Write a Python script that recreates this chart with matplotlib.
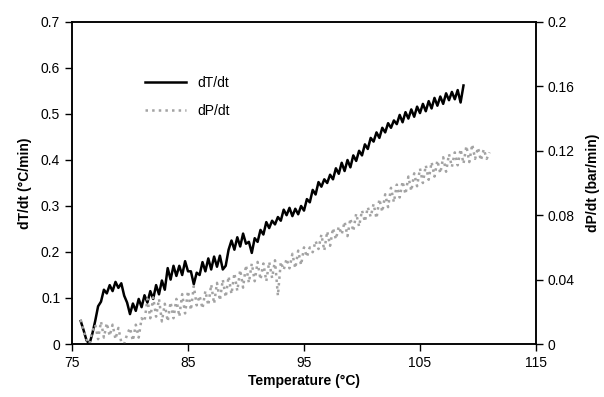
import matplotlib
matplotlib.use("Agg")
import matplotlib.pyplot as plt

plt.rcParams['font.family'] = ['Liberation Sans', 'DejaVu Sans']

# dT/dt (left axis, °C/min)
temp_T = [
    75.75, 76.0, 76.25, 76.5, 76.75, 77.0, 77.25, 77.5, 77.75, 78.0,
    78.25, 78.5, 78.75, 79.0, 79.25, 79.5, 79.75, 80.0, 80.25, 80.5,
    80.75, 81.0, 81.25, 81.5, 81.75, 82.0, 82.25, 82.5, 82.75, 83.0,
    83.25, 83.5, 83.75, 84.0, 84.25, 84.5, 84.75, 85.0, 85.25, 85.5,
    85.75, 86.0, 86.25, 86.5, 86.75, 87.0, 87.25, 87.5, 87.75, 88.0,
    88.25, 88.5, 88.75, 89.0, 89.25, 89.5, 89.75, 90.0, 90.25, 90.5,
    90.75, 91.0, 91.25, 91.5, 91.75, 92.0, 92.25, 92.5, 92.75, 93.0,
    93.25, 93.5, 93.75, 94.0, 94.25, 94.5, 94.75, 95.0, 95.25, 95.5,
    95.75, 96.0, 96.25, 96.5, 96.75, 97.0, 97.25, 97.5, 97.75, 98.0,
    98.25, 98.5, 98.75, 99.0, 99.25, 99.5, 99.75, 100.0, 100.25, 100.5,
    100.75, 101.0, 101.25, 101.5, 101.75, 102.0, 102.25, 102.5, 102.75, 103.0,
    103.25, 103.5, 103.75, 104.0, 104.25, 104.5, 104.75, 105.0, 105.25, 105.5,
    105.75, 106.0, 106.25, 106.5, 106.75, 107.0, 107.25, 107.5, 107.75, 108.0,
    108.25, 108.5, 108.75,
]
dTdt = [
    0.050, 0.030, 0.008, 0.000, 0.022, 0.050, 0.082, 0.092, 0.118, 0.110,
    0.128, 0.115, 0.135, 0.122, 0.132, 0.105, 0.090, 0.065, 0.088, 0.072,
    0.098, 0.080, 0.106, 0.090, 0.115, 0.098, 0.128, 0.108, 0.138, 0.118,
    0.165, 0.140, 0.170, 0.148, 0.170, 0.150, 0.180, 0.158, 0.158, 0.130,
    0.155, 0.150, 0.178, 0.158, 0.186, 0.162, 0.190, 0.168, 0.192, 0.162,
    0.170, 0.205, 0.225, 0.205, 0.232, 0.212, 0.240, 0.218, 0.222, 0.198,
    0.230, 0.222, 0.248, 0.238, 0.265, 0.252, 0.268, 0.260, 0.276, 0.268,
    0.292, 0.280, 0.296, 0.278, 0.294, 0.282, 0.300, 0.290, 0.315, 0.308,
    0.335, 0.325, 0.352, 0.342, 0.358, 0.350, 0.368, 0.358, 0.382, 0.370,
    0.394, 0.376, 0.400, 0.384, 0.410, 0.398, 0.420, 0.410, 0.434, 0.424,
    0.448, 0.440, 0.460, 0.448, 0.470, 0.460, 0.480, 0.470, 0.486, 0.478,
    0.498, 0.482, 0.504, 0.490, 0.510, 0.494, 0.516, 0.502, 0.522, 0.506,
    0.528, 0.512, 0.535, 0.518, 0.538, 0.522, 0.545, 0.530, 0.548, 0.532,
    0.552, 0.525, 0.562,
]

# dP/dt (right axis, bar/min)
temp_P = [
    75.75, 76.0, 76.25, 76.5, 76.75, 77.0, 77.25, 77.5, 77.75, 78.0,
    78.25, 78.5, 78.75, 79.0, 79.25, 79.5, 79.75, 80.0, 80.25, 80.5,
    80.75, 81.0, 81.25, 81.5, 81.75, 82.0, 82.25, 82.5, 82.75, 83.0,
    83.25, 83.5, 83.75, 84.0, 84.25, 84.5, 84.75, 85.0, 85.25, 85.5,
    85.75, 86.0, 86.25, 86.5, 86.75, 87.0, 87.25, 87.5, 87.75, 88.0,
    88.25, 88.5, 88.75, 89.0, 89.25, 89.5, 89.75, 90.0, 90.25, 90.5,
    90.75, 91.0, 91.25, 91.5, 91.75, 92.0, 92.25, 92.5, 92.75, 93.0,
    93.25, 93.5, 93.75, 94.0, 94.25, 94.5, 94.75, 95.0, 95.25, 95.5,
    95.75, 96.0, 96.25, 96.5, 96.75, 97.0, 97.25, 97.5, 97.75, 98.0,
    98.25, 98.5, 98.75, 99.0, 99.25, 99.5, 99.75, 100.0, 100.25, 100.5,
    100.75, 101.0, 101.25, 101.5, 101.75, 102.0, 102.25, 102.5, 102.75, 103.0,
    103.25, 103.5, 103.75, 104.0, 104.25, 104.5, 104.75, 105.0, 105.25, 105.5,
    105.75, 106.0, 106.25, 106.5, 106.75, 107.0, 107.25, 107.5, 107.75, 108.0,
    108.25, 108.5, 108.75, 109.0, 109.25, 109.5, 109.75, 110.0, 110.25, 110.5,
    110.75, 111.0,
]
dPdt = [
    0.015, 0.008, 0.003, 0.000, 0.008, 0.012, 0.003, 0.014, 0.004, 0.013,
    0.005, 0.012, 0.003, 0.010, 0.001, 0.000, 0.006, 0.010, 0.002, 0.012,
    0.004, 0.016, 0.014, 0.028, 0.016, 0.029, 0.017, 0.028, 0.014, 0.025,
    0.014, 0.026, 0.016, 0.028, 0.017, 0.031, 0.019, 0.033, 0.021, 0.036,
    0.024, 0.030, 0.022, 0.033, 0.024, 0.037, 0.025, 0.038, 0.027, 0.040,
    0.029, 0.042, 0.031, 0.044, 0.033, 0.046, 0.035, 0.049, 0.038, 0.050,
    0.039, 0.051, 0.040, 0.050, 0.039, 0.051, 0.041, 0.052, 0.030, 0.051,
    0.046, 0.053, 0.047, 0.056, 0.047, 0.058, 0.049, 0.060, 0.054, 0.060,
    0.057, 0.064, 0.059, 0.068, 0.058, 0.070, 0.061, 0.072, 0.065, 0.073,
    0.068, 0.076, 0.067, 0.078, 0.070, 0.081, 0.073, 0.083, 0.076, 0.085,
    0.079, 0.087, 0.078, 0.090, 0.082, 0.093, 0.085, 0.097, 0.088, 0.099,
    0.091, 0.101, 0.093, 0.104, 0.095, 0.106, 0.098, 0.109, 0.100, 0.111,
    0.102, 0.113, 0.104, 0.114, 0.106, 0.116, 0.107, 0.118, 0.110, 0.119,
    0.111, 0.121, 0.112, 0.123, 0.113, 0.124, 0.115, 0.122, 0.114, 0.121,
    0.115, 0.119,
]

left_ticks = [0, 0.1, 0.2, 0.3, 0.4, 0.5, 0.6, 0.7]
left_labels = ['0', '0.1', '0.2', '0.3', '0.4', '0.5', '0.6', '0.7']
right_ticks = [0, 0.04, 0.08, 0.12, 0.16, 0.2]
right_labels = ['0', '0.04', '0.08', '0.12', '0.16', '0.2']
x_ticks = [75, 85, 95, 105, 115]

fig = plt.figure(figsize=(6.04, 3.97), dpi=100)
ax = fig.add_axes([0.1192, 0.1335, 0.7682, 0.8111])
ax2 = ax.twinx()

l1, = ax.plot(temp_T, dTdt, color='black', lw=1.8, label='dT/dt')
l2, = ax2.plot(temp_P, dPdt, color='#a3a3a3', lw=1.8, ls=':', label='dP/dt')

ax.set_xlim(75, 115)
ax.set_ylim(0, 0.7)
ax2.set_ylim(0, 0.2)
ax.set_xticks(x_ticks)
ax.set_xticklabels([str(t) for t in x_ticks])
ax.set_yticks(left_ticks)
ax.set_yticklabels(left_labels)
ax2.set_yticks(right_ticks)
ax2.set_yticklabels(right_labels)

for a in (ax, ax2):
    a.tick_params(direction='out', length=5, width=1, labelsize=10, colors='black')
    for s in a.spines.values():
        s.set_linewidth(1.1)

ax.set_xlabel('Temperature (°C)', fontsize=10, fontweight='bold', labelpad=3)
ax.set_ylabel('dT/dt (°C/min)', fontsize=10, fontweight='bold', labelpad=6)
ax2.set_ylabel('dP/dt (bar/min)', fontsize=10, fontweight='bold', labelpad=8)

ax.legend([l1, l2], ['dT/dt', 'dP/dt'], loc='upper left',
          bbox_to_anchor=(0.13, 0.87), frameon=False, fontsize=10,
          handlelength=3.0, labelspacing=1.0)

fig.savefig('out.png', dpi=100)
